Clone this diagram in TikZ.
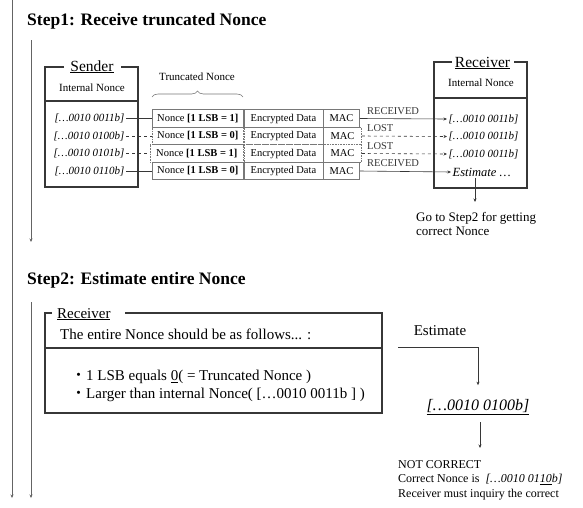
\documentclass[tikz,border=0pt]{standalone}
\usepackage{fontspec}
\setmainfont{Liberation Serif}
\newfontfamily\cjkfont{Noto Sans CJK JP}
\usetikzlibrary{arrows.meta, calc, positioning, decorations.pathreplacing}
\definecolor{framegray}{RGB}{55,55,55}
\definecolor{cellgray}{RGB}{120,120,120}
\definecolor{flowgray}{RGB}{100,100,100}

\begin{document}
\begin{tikzpicture}[
    x=1pt, y=-1pt,
    >={Stealth[length=3.5pt, width=3pt]},
    steptitle/.style = {font=\fontsize{17.5}{20}\selectfont\bfseries, anchor=west, inner sep=0pt},
    frame/.style     = {draw=framegray, line width=1.3pt},
    boxtitle/.style  = {font=\fontsize{15.5}{18}\selectfont, inner sep=0pt, anchor=base},
    note/.style      = {font=\fontsize{11}{13}\selectfont, inner sep=0pt},
    nonce/.style     = {font=\fontsize{11}{13}\selectfont\itshape, inner sep=1.5pt},
    cell/.style      = {draw=cellgray, line width=0.6pt, minimum height=17.5pt,
                        inner sep=0pt, font=\fontsize{10.5}{12}\selectfont},
    lostcell/.style  = {cell, densely dotted},
    link/.style      = {line width=0.6pt, framegray},
    arr/.style       = {->, line width=0.6pt, framegray},
    flow/.style      = {->, line width=0.8pt, flowgray},
    lbl/.style       = {font=\fontsize{10.5}{12}\selectfont, inner sep=0pt, anchor=south west},
    body/.style      = {font=\fontsize{15}{17}\selectfont, inner sep=0pt, anchor=west},
]
\useasboundingbox (0,0) rectangle (583,507);

% ---------------- time lines ----------------
\coordinate (topA) at (12,0);
\coordinate (endA) at (12,498);
\draw[flow] (topA) -- (endA);

% ---------------- step 1 ----------------
\node[steptitle] (step1) at (27,21) {Step1: Receive truncated Nonce};
\coordinate (s1top) at (31,40);
\coordinate (s1end) at (31,242);
\draw[flow] (s1top) -- (s1end);

% sender
\draw[frame] (64,67) -- (45,67) -- (45,187) -- (138,187) -- (138,67) -- (121,67);
\draw[frame] (45,101) -- (138,101);
\node[boxtitle] (sender) at (92,71) {\underline{Sender}};
\node[note] (sint) at (92,88) {Internal Nonce};
\node[nonce, anchor=east] (snd1) at (126,118.5) {[…0010 0011b]};
\node[nonce, anchor=east] (snd2) at (126,136) {[…0010 0100b]};
\node[nonce, anchor=east] (snd3) at (126,153.5) {[…0010 0101b]};
\node[nonce, anchor=east] (snd4) at (126,171) {[…0010 0110b]};

% packets
\node[note] (trunc) at (197,77) {Truncated Nonce};
\draw[cellgray, line width=0.6pt, decorate, decoration={brace, amplitude=6pt}] (152,97) -- (243,97);

\node[cell, minimum width=91pt, anchor=west] (nc1) at (152,118.5) {Nonce \textbf{[1 LSB = 1]}};
\node[cell, minimum width=79pt, right=0pt of nc1] (ed1) {Encrypted Data};
\node[cell, minimum width=36pt, right=0pt of ed1] (mac1) {MAC};
\node[lostcell, minimum width=91pt, anchor=west] (nc2) at (152,136) {Nonce \textbf{[1 LSB = 0]}};
\node[lostcell, minimum width=79pt, right=0pt of nc2] (ed2) {Encrypted Data};
\node[lostcell, minimum width=38pt, right=0pt of ed2] (mac2) {MAC};
\node[lostcell, minimum width=93pt, anchor=west] (nc3) at (150,153.5) {Nonce \textbf{[1 LSB = 1]}};
\node[lostcell, minimum width=79pt, right=0pt of nc3] (ed3) {Encrypted Data};
\node[lostcell, minimum width=38pt, right=0pt of ed3] (mac3) {MAC};
\node[cell, minimum width=91pt, anchor=west] (nc4) at (152,171) {Nonce \textbf{[1 LSB = 0]}};
\node[cell, minimum width=79pt, right=0pt of nc4] (ed4) {Encrypted Data};
\node[cell, minimum width=36pt, right=0pt of ed4] (mac4) {MAC};

\draw[link] (snd1.east) -- (nc1.west);
\draw[link, dashed] (snd2.east) -- (nc2.west);
\draw[link, dashed] (snd3.east) -- (nc3.west);
\draw[link] (snd4.east) -- (nc4.west);

% receiver
\draw[frame] (452,62) -- (434,62) -- (434,188) -- (527,188) -- (527,62) -- (514,62);
\draw[frame] (434,98) -- (527,98);
\node[boxtitle] (receiver) at (482.5,67) {\underline{Receiver}};
\node[note] (rint) at (481,83) {Internal Nonce};
\node[nonce, anchor=west] (rcv1) at (447,119) {[…0010 0011b]};
\node[nonce, anchor=west] (rcv2) at (447,136.5) {[…0010 0011b]};
\node[nonce, anchor=west] (rcv3) at (447,154) {[…0010 0011b]};
\node[nonce, anchor=west, font=\fontsize{12.5}{14}\selectfont\itshape] (rcv4) at (451,172) {Estimate …};

\draw[arr] (mac1.east) -- node[lbl, pos=0, xshift=7pt, yshift=4pt] {RECEIVED} (rcv1.west);
\draw[arr, dashed] (mac2.east) -- node[lbl, pos=0, xshift=5pt, yshift=4pt] {LOST} (rcv2.west);
\draw[arr, dashed] (mac3.east) -- node[lbl, pos=0, xshift=5pt, yshift=4pt] {LOST} (rcv3.west);
\draw[arr] (mac4.east) -- node[lbl, pos=0, xshift=7pt, yshift=4pt] {RECEIVED} (rcv4.west);

\coordinate (gotip) at (475,202);
\draw[arr] (rcv4.south -| gotip) -- (gotip);
\node[note, font=\fontsize{13}{14}\selectfont, align=left, anchor=north west] (goto) at (416,212)
    {Go to Step2 for getting\\correct Nonce};

% ---------------- step 2 ----------------
\node[steptitle] (step2) at (27,280) {Step2: Estimate entire Nonce};
\coordinate (s2top) at (31,302);
\coordinate (s2end) at (31,498);
\draw[flow] (s2top) -- (s2end);

\draw[frame] (52,313) -- (45,313) -- (45,413) -- (382,413) -- (382,313) -- (125,313);
\draw[frame] (45,348) -- (382,348);
\node[boxtitle, font=\fontsize{15}{17}\selectfont, anchor=base west] (recv2) at (57,318) {\underline{Receiver}};
\node[body] (rule) at (60,334) {The entire Nonce should be as follows... :};
\node[body] (cond1) at (71,377) {{\cjkfont ・}1 LSB equals \underline{0}( = Truncated Nonce )};
\node[body] (cond2) at (71,395) {{\cjkfont ・}Larger than internal Nonce( […0010 0011b ] )};

\node[body, anchor=center] (est) at (440,331) {Estimate};
\coordinate (estL) at (398,347);
\node[font=\fontsize{16}{18}\selectfont\itshape, inner sep=0pt] (guess) at (478,407) {\underline{[…0010 0100b]}};
\draw[arr, line width=0.9pt] (estL) -| ([yshift=14pt]guess.north);

\coordinate (restop) at (480,422);
\coordinate (restip) at (480,448);
\draw[arr, line width=0.9pt] (restop) -- (restip);
\node[note, font=\fontsize{12}{14.5}\selectfont, align=left, anchor=north west] (result) at (398,460)
    {NOT CORRECT\\Correct Nonce is\ \ \textit{[…0010 01\underline{10}b]}\\Receiver must inquiry the correct};

\end{tikzpicture}
\end{document}
